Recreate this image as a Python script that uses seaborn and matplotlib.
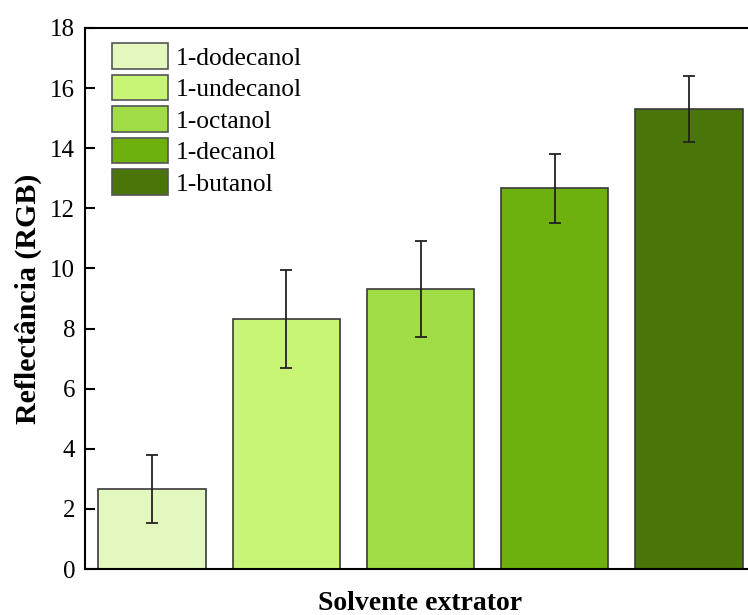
import matplotlib
matplotlib.use("Agg")
import matplotlib.pyplot as plt
import seaborn as sns
import pandas as pd

# Extraction solvents and measured reflectance (RGB) with standard deviations
solvents = ["1-dodecanol", "1-undecanol", "1-octanol", "1-decanol", "1-butanol"]
reflectance = [2.67, 8.33, 9.32, 12.66, 15.30]
std_dev = [1.13, 1.63, 1.60, 1.16, 1.10]
colors = ["#E2F8BE", "#C8F573", "#A0DC46", "#6EB00E", "#4A7508"]
y_ticks = [0, 2, 4, 6, 8, 10, 12, 14, 16, 18]

df = pd.DataFrame({"solvente": solvents, "refl": reflectance})

sns.set_style("ticks")
plt.rcParams["font.family"] = ["Liberation Serif", "DejaVu Serif"]
plt.rcParams["text.color"] = "black"
plt.rcParams["axes.labelcolor"] = "black"

fig = plt.figure(figsize=(7.48, 6.15), dpi=100)
ax = fig.add_axes([85 / 748, 46 / 615, 671 / 748, 541 / 615])

sns.barplot(data=df, x="solvente", y="refl", hue="solvente",
            palette=colors, dodge=False, width=0.8, saturation=1,
            edgecolor="#3a3a3a", linewidth=1.2, legend=True, ax=ax)

ax.errorbar(range(len(solvents)), reflectance, yerr=std_dev, fmt="none",
            ecolor="#222222", elinewidth=1.3, capsize=4, capthick=1.3,
            zorder=5)

ax.set_xlim(-0.5, len(solvents) - 0.5)
ax.set_ylim(0, 18)
ax.set_yticks(y_ticks)
ax.set_xticks(range(len(solvents)))
ax.set_xticklabels([])
ax.tick_params(axis="both", direction="in", length=7, width=1.5,
               labelsize=18, colors="black")
ax.tick_params(axis="y", pad=7)
for side in ["left", "bottom", "top", "right"]:
    ax.spines[side].set_visible(True)
    ax.spines[side].set_linewidth(1.5)
    ax.spines[side].set_color("black")

ax.set_ylabel("Reflectância (RGB)", fontsize=21.5, fontweight="bold", labelpad=6)
ax.set_xlabel("Solvente extrator", fontsize=20, fontweight="bold", labelpad=12)

leg = ax.legend(loc="upper left", bbox_to_anchor=(0.017, 1.0), frameon=False,
                fontsize=18.4, handlelength=2.2, handleheight=1.16,
                labelspacing=0.2, handletextpad=0.3, borderaxespad=0.2)
for h in leg.get_patches():
    h.set_edgecolor("#555555")
    h.set_linewidth(1.2)

fig.savefig("out.png", dpi=100)
